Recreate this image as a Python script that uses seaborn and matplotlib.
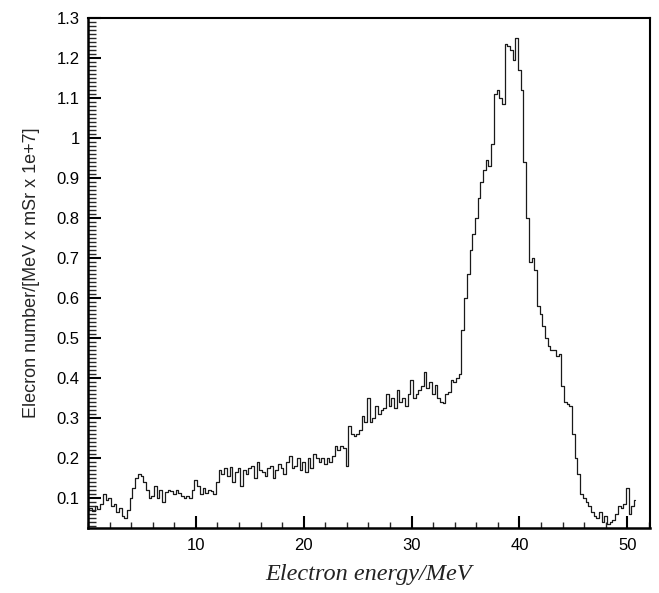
import numpy as np
import pandas as pd
import matplotlib
matplotlib.use("Agg")
import matplotlib.pyplot as plt
import seaborn as sns
from matplotlib.ticker import MultipleLocator, FuncFormatter

# Energy grid (MeV), 0.25 MeV bins
energy = [i * 0.25 for i in range(204)]

# Electron number values (1e7 / MeV / mSr)
counts_0_5 = [0.07, 0.075, 0.068, 0.08, 0.072, 0.085, 0.11, 0.095, 0.1, 0.08,
              0.085, 0.065, 0.075, 0.055, 0.05, 0.07, 0.1, 0.125, 0.15, 0.16]
counts_5_10 = [0.155, 0.14, 0.12, 0.1, 0.105, 0.13, 0.1, 0.12, 0.09, 0.115,
               0.12, 0.118, 0.11, 0.12, 0.113, 0.105, 0.1, 0.105, 0.1, 0.12]
counts_10_15 = [0.145, 0.13, 0.11, 0.125, 0.112, 0.12, 0.118, 0.11, 0.14, 0.17,
                0.16, 0.175, 0.155, 0.178, 0.14, 0.165, 0.175, 0.13, 0.17, 0.16]
counts_15_20 = [0.175, 0.18, 0.15, 0.19, 0.17, 0.165, 0.155, 0.175, 0.18, 0.15,
                0.17, 0.185, 0.175, 0.16, 0.19, 0.205, 0.175, 0.18, 0.2, 0.17]
counts_20_25 = [0.19, 0.165, 0.2, 0.175, 0.21, 0.2, 0.19, 0.2, 0.185, 0.2,
                0.19, 0.205, 0.23, 0.22, 0.23, 0.225, 0.18, 0.28, 0.26, 0.255]
counts_25_30 = [0.26, 0.27, 0.305, 0.29, 0.35, 0.29, 0.3, 0.33, 0.31, 0.32,
                0.325, 0.36, 0.33, 0.35, 0.325, 0.37, 0.34, 0.35, 0.33, 0.36]
counts_30_35 = [0.395, 0.35, 0.36, 0.37, 0.38, 0.415, 0.375, 0.39, 0.36, 0.383,
                0.35, 0.34, 0.337, 0.36, 0.365, 0.395, 0.39, 0.4, 0.41, 0.52]
counts_35_40 = [0.6, 0.66, 0.72, 0.76, 0.8, 0.85, 0.89, 0.92, 0.945, 0.93,
                0.985, 1.11, 1.12, 1.1, 1.085, 1.235, 1.23, 1.22, 1.195, 1.25]
counts_40_45 = [1.17, 1.12, 0.94, 0.8, 0.69, 0.7, 0.67, 0.58, 0.56, 0.53,
                0.5, 0.48, 0.47, 0.47, 0.455, 0.46, 0.38, 0.34, 0.335, 0.33]
counts_45_51 = [0.26, 0.2, 0.16, 0.11, 0.1, 0.09, 0.08, 0.065, 0.055, 0.05,
                0.065, 0.04, 0.055, 0.035, 0.04, 0.045, 0.06, 0.08, 0.075, 0.085,
                0.125, 0.06, 0.08, 0.095]

counts = (counts_0_5 + counts_5_10 + counts_10_15 + counts_15_20 + counts_20_25
          + counts_25_30 + counts_30_35 + counts_35_40 + counts_40_45 + counts_45_51)

x_ticks = [10, 20, 30, 40, 50]
y_ticks = [0.1, 0.2, 0.3, 0.4, 0.5, 0.6, 0.7, 0.8, 0.9, 1.0, 1.1, 1.2, 1.3]

df = pd.DataFrame({"energy": energy[:len(counts)], "counts": counts})

sns.set_style("ticks")
plt.rcParams["font.family"] = ["Liberation Sans", "DejaVu Sans"]

fig = plt.figure(figsize=(6.59, 5.93), dpi=100)
ax = fig.add_axes([0.1335, 0.1096, 0.8528, 0.86])

sns.lineplot(data=df, x="energy", y="counts", ax=ax, color="#1a1a1a",
             linewidth=0.9, drawstyle="steps-mid", legend=False)

ax.set_xlim(0, 52.1)
ax.set_ylim(0.025, 1.3)
ax.set_xticks(x_ticks)
ax.set_yticks(y_ticks)
ax.xaxis.set_minor_locator(MultipleLocator(2))
ax.yaxis.set_minor_locator(MultipleLocator(0.01))
ax.yaxis.set_major_formatter(FuncFormatter(lambda v, p: f"{v:g}"))

ax.tick_params(axis="both", which="major", direction="in", length=9, width=1.5,
               labelsize=12, colors="black")
ax.tick_params(axis="x", which="major", pad=7)
ax.tick_params(axis="y", which="major", pad=6)
ax.tick_params(axis="x", which="minor", direction="in", length=4, width=1.0)
ax.tick_params(axis="y", which="minor", direction="in", length=6, width=1.0)
ax.tick_params(top=False, right=False)

for side, lw in [("left", 1.8), ("bottom", 1.8), ("top", 1.5), ("right", 1.5)]:
    ax.spines[side].set_visible(True)
    ax.spines[side].set_linewidth(lw)
    ax.spines[side].set_color("black")

ax.set_xlabel("Electron energy/MeV", family=["Liberation Serif", "DejaVu Serif"],
              style="italic", fontsize=17.5, labelpad=8, color="#222222")
ax.set_ylabel("Elecron number/[MeV x mSr x 1e+7]", fontsize=13, labelpad=12)

fig.savefig("out.png", dpi=100)
